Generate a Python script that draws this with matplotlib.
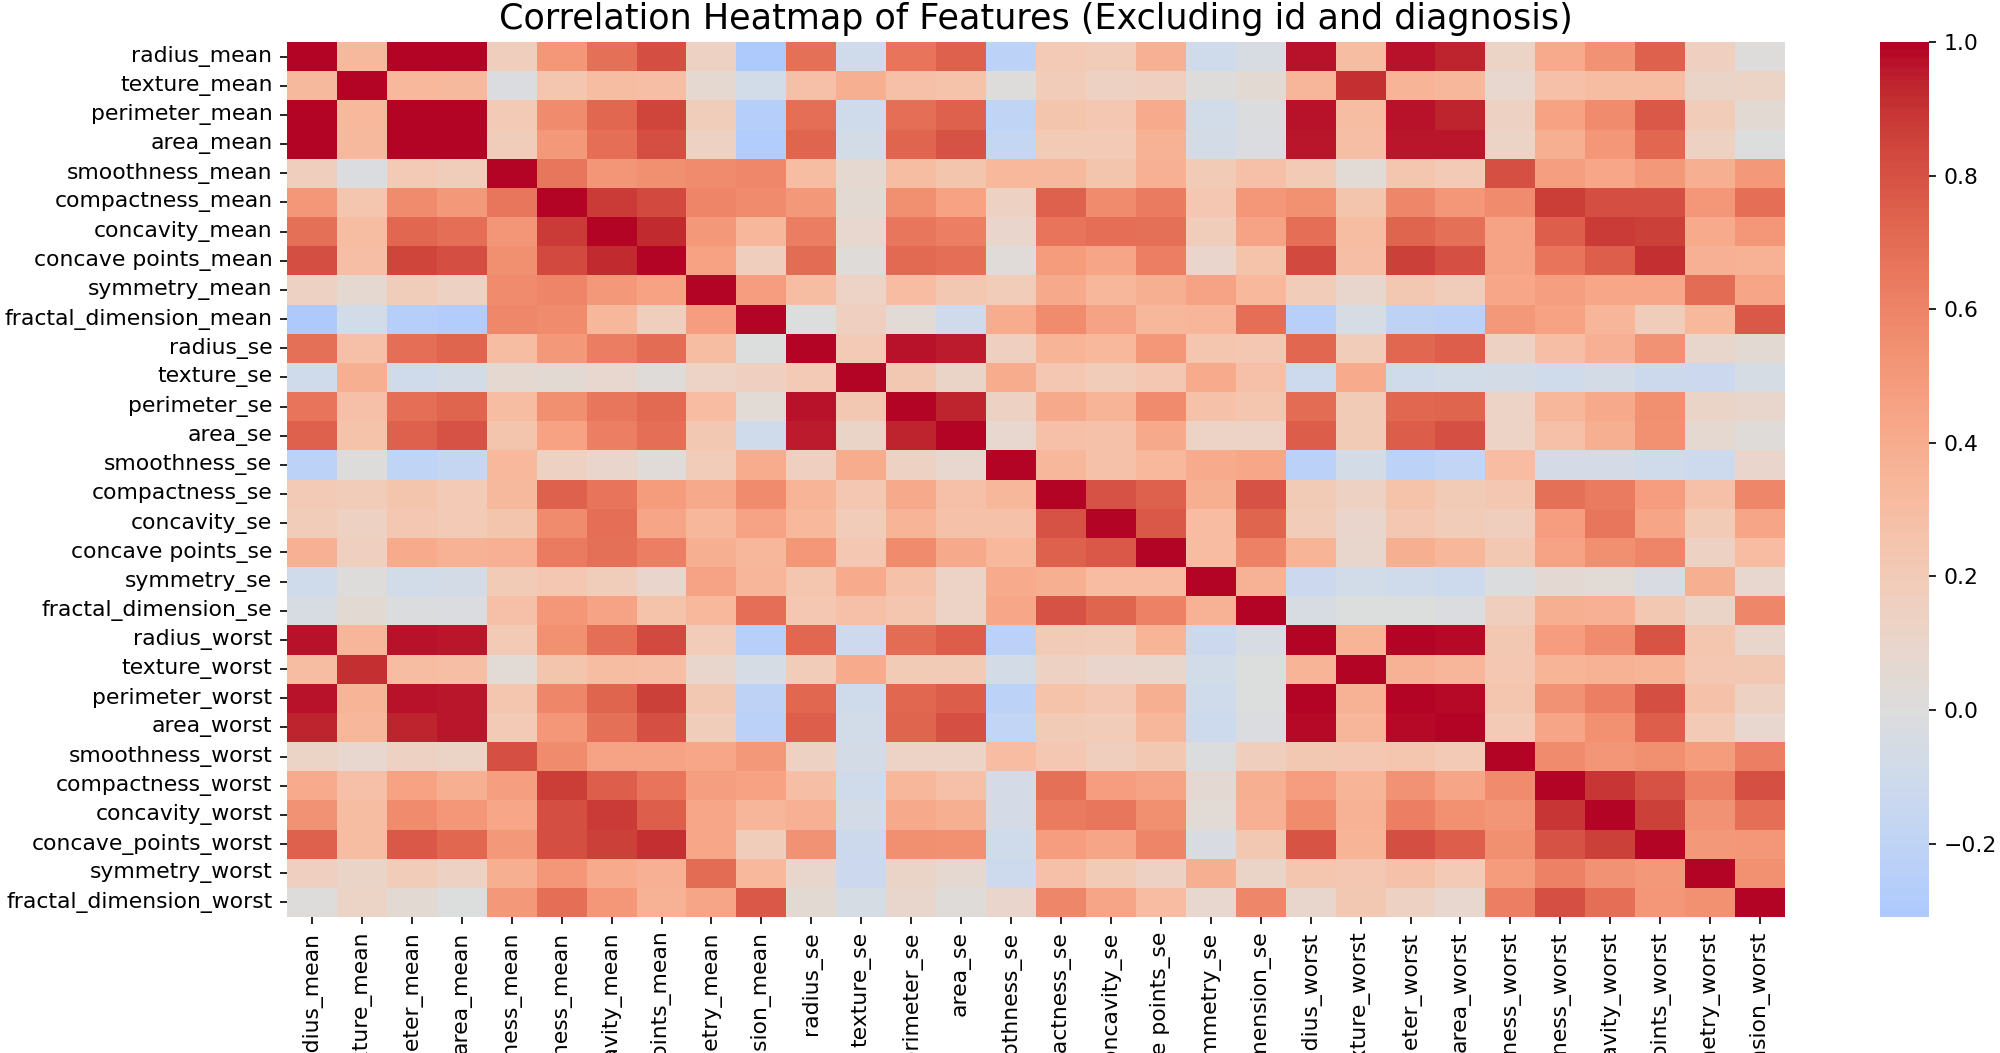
import matplotlib
matplotlib.use("Agg")
import matplotlib.pyplot as plt
import seaborn as sns
import pandas as pd

# feature names as they appear on the axes
features = ["radius_mean", "texture_mean", "perimeter_mean", "area_mean",
            "smoothness_mean", "compactness_mean", "concavity_mean",
            "concave points_mean", "symmetry_mean", "fractal_dimension_mean",
            "radius_se", "texture_se", "perimeter_se", "area_se",
            "smoothness_se", "compactness_se", "concavity_se",
            "concave points_se", "symmetry_se", "fractal_dimension_se",
            "radius_worst", "texture_worst", "perimeter_worst", "area_worst",
            "smoothness_worst", "compactness_worst", "concavity_worst",
            "concave_points_worst", "symmetry_worst", "fractal_dimension_worst"]

# correlation matrix, one row per feature
corr = [
    [1.00, 0.32, 1.00, 0.99, 0.17, 0.51, 0.68, 0.82, 0.15, -0.31, 0.68, -0.10, 0.67, 0.74, -0.22, 0.21, 0.19, 0.38, -0.10, -0.04, 0.97, 0.30, 0.97, 0.94, 0.12, 0.41, 0.53, 0.74, 0.16, 0.01],
    [0.32, 1.00, 0.33, 0.32, -0.02, 0.24, 0.30, 0.29, 0.07, -0.08, 0.28, 0.39, 0.28, 0.26, 0.01, 0.19, 0.14, 0.16, 0.01, 0.05, 0.35, 0.91, 0.36, 0.34, 0.08, 0.28, 0.30, 0.30, 0.11, 0.12],
    [1.00, 0.33, 1.00, 0.99, 0.21, 0.56, 0.72, 0.85, 0.18, -0.26, 0.69, -0.09, 0.69, 0.74, -0.20, 0.25, 0.23, 0.41, -0.08, -0.01, 0.97, 0.30, 0.97, 0.94, 0.15, 0.46, 0.56, 0.77, 0.19, 0.05],
    [0.99, 0.32, 0.99, 1.00, 0.18, 0.50, 0.69, 0.82, 0.15, -0.28, 0.73, -0.07, 0.73, 0.80, -0.17, 0.21, 0.21, 0.37, -0.07, -0.02, 0.96, 0.29, 0.96, 0.96, 0.12, 0.39, 0.51, 0.72, 0.14, 0.00],
    [0.17, -0.02, 0.21, 0.18, 1.00, 0.66, 0.52, 0.55, 0.56, 0.58, 0.30, 0.07, 0.30, 0.25, 0.33, 0.32, 0.25, 0.38, 0.20, 0.28, 0.21, 0.04, 0.24, 0.21, 0.81, 0.47, 0.43, 0.50, 0.39, 0.50],
    [0.51, 0.24, 0.56, 0.50, 0.66, 1.00, 0.88, 0.83, 0.60, 0.57, 0.50, 0.05, 0.55, 0.46, 0.14, 0.74, 0.57, 0.64, 0.23, 0.51, 0.54, 0.25, 0.59, 0.51, 0.57, 0.87, 0.82, 0.82, 0.51, 0.69],
    [0.68, 0.30, 0.72, 0.69, 0.52, 0.88, 1.00, 0.92, 0.50, 0.34, 0.63, 0.08, 0.66, 0.62, 0.10, 0.67, 0.69, 0.68, 0.18, 0.45, 0.69, 0.30, 0.73, 0.68, 0.45, 0.75, 0.88, 0.86, 0.41, 0.51],
    [0.82, 0.29, 0.85, 0.82, 0.55, 0.83, 0.92, 1.00, 0.46, 0.17, 0.70, 0.02, 0.71, 0.69, 0.03, 0.49, 0.44, 0.62, 0.10, 0.26, 0.83, 0.29, 0.86, 0.81, 0.45, 0.67, 0.75, 0.91, 0.38, 0.37],
    [0.15, 0.07, 0.18, 0.15, 0.56, 0.60, 0.50, 0.46, 1.00, 0.48, 0.30, 0.13, 0.31, 0.22, 0.19, 0.42, 0.34, 0.39, 0.45, 0.33, 0.19, 0.09, 0.22, 0.18, 0.43, 0.47, 0.43, 0.43, 0.70, 0.44],
    [-0.31, -0.08, -0.26, -0.28, 0.58, 0.57, 0.34, 0.17, 0.48, 1.00, 0.00, 0.16, 0.04, -0.09, 0.40, 0.56, 0.45, 0.34, 0.35, 0.69, -0.25, -0.05, -0.21, -0.23, 0.50, 0.46, 0.35, 0.18, 0.33, 0.77],
    [0.68, 0.28, 0.69, 0.73, 0.30, 0.50, 0.63, 0.70, 0.30, 0.00, 1.00, 0.21, 0.97, 0.95, 0.16, 0.36, 0.33, 0.51, 0.24, 0.23, 0.72, 0.19, 0.72, 0.75, 0.14, 0.29, 0.38, 0.53, 0.09, 0.05],
    [-0.10, 0.39, -0.09, -0.07, 0.07, 0.05, 0.08, 0.02, 0.13, 0.16, 0.21, 1.00, 0.22, 0.11, 0.40, 0.23, 0.19, 0.23, 0.41, 0.28, -0.11, 0.41, -0.10, -0.08, -0.07, -0.09, -0.07, -0.12, -0.13, -0.05],
    [0.67, 0.28, 0.69, 0.73, 0.30, 0.55, 0.66, 0.71, 0.31, 0.04, 0.97, 0.22, 1.00, 0.94, 0.15, 0.42, 0.36, 0.56, 0.27, 0.24, 0.70, 0.20, 0.72, 0.73, 0.13, 0.34, 0.42, 0.55, 0.11, 0.09],
    [0.74, 0.26, 0.74, 0.80, 0.25, 0.46, 0.62, 0.69, 0.22, -0.09, 0.95, 0.11, 0.94, 1.00, 0.08, 0.28, 0.27, 0.42, 0.13, 0.13, 0.76, 0.20, 0.76, 0.81, 0.13, 0.28, 0.39, 0.54, 0.07, 0.02],
    [-0.22, 0.01, -0.20, -0.17, 0.33, 0.14, 0.10, 0.03, 0.19, 0.40, 0.16, 0.40, 0.15, 0.08, 1.00, 0.34, 0.27, 0.33, 0.41, 0.43, -0.23, -0.07, -0.22, -0.18, 0.31, -0.06, -0.06, -0.10, -0.11, 0.10],
    [0.21, 0.19, 0.25, 0.21, 0.32, 0.74, 0.67, 0.49, 0.42, 0.56, 0.36, 0.23, 0.42, 0.28, 0.34, 1.00, 0.80, 0.74, 0.39, 0.80, 0.20, 0.14, 0.26, 0.20, 0.23, 0.68, 0.64, 0.48, 0.28, 0.59],
    [0.19, 0.14, 0.23, 0.21, 0.25, 0.57, 0.69, 0.44, 0.34, 0.45, 0.33, 0.19, 0.36, 0.27, 0.27, 0.80, 1.00, 0.77, 0.31, 0.73, 0.19, 0.10, 0.23, 0.19, 0.17, 0.48, 0.66, 0.44, 0.20, 0.44],
    [0.38, 0.16, 0.41, 0.37, 0.38, 0.64, 0.68, 0.62, 0.39, 0.34, 0.51, 0.23, 0.56, 0.42, 0.33, 0.74, 0.77, 1.00, 0.31, 0.61, 0.36, 0.09, 0.39, 0.34, 0.22, 0.45, 0.55, 0.60, 0.14, 0.31],
    [-0.10, 0.01, -0.08, -0.07, 0.20, 0.23, 0.18, 0.10, 0.45, 0.35, 0.24, 0.41, 0.27, 0.13, 0.41, 0.39, 0.31, 0.31, 1.00, 0.37, -0.13, -0.08, -0.10, -0.11, -0.01, 0.06, 0.04, -0.03, 0.39, 0.08],
    [-0.04, 0.05, -0.01, -0.02, 0.28, 0.51, 0.45, 0.26, 0.33, 0.69, 0.23, 0.28, 0.24, 0.13, 0.43, 0.80, 0.73, 0.61, 0.37, 1.00, -0.04, -0.00, -0.00, -0.02, 0.17, 0.39, 0.38, 0.22, 0.11, 0.59],
    [0.97, 0.35, 0.97, 0.96, 0.21, 0.54, 0.69, 0.83, 0.19, -0.25, 0.72, -0.11, 0.70, 0.76, -0.23, 0.20, 0.19, 0.36, -0.13, -0.04, 1.00, 0.36, 0.99, 0.98, 0.22, 0.48, 0.57, 0.79, 0.24, 0.09],
    [0.30, 0.91, 0.30, 0.29, 0.04, 0.25, 0.30, 0.29, 0.09, -0.05, 0.19, 0.41, 0.20, 0.20, -0.07, 0.14, 0.10, 0.09, -0.08, -0.00, 0.36, 1.00, 0.37, 0.35, 0.23, 0.36, 0.37, 0.36, 0.23, 0.22],
    [0.97, 0.36, 0.97, 0.96, 0.24, 0.59, 0.73, 0.86, 0.22, -0.21, 0.72, -0.10, 0.72, 0.76, -0.22, 0.26, 0.23, 0.39, -0.10, -0.00, 0.99, 0.37, 1.00, 0.98, 0.24, 0.53, 0.62, 0.82, 0.27, 0.14],
    [0.94, 0.34, 0.94, 0.96, 0.21, 0.51, 0.68, 0.81, 0.18, -0.23, 0.75, -0.08, 0.73, 0.81, -0.18, 0.20, 0.19, 0.34, -0.11, -0.02, 0.98, 0.35, 0.98, 1.00, 0.21, 0.44, 0.54, 0.75, 0.21, 0.08],
    [0.12, 0.08, 0.15, 0.12, 0.81, 0.57, 0.45, 0.45, 0.43, 0.50, 0.14, -0.07, 0.13, 0.13, 0.31, 0.23, 0.17, 0.22, -0.01, 0.17, 0.22, 0.23, 0.24, 0.21, 1.00, 0.57, 0.52, 0.55, 0.49, 0.62],
    [0.41, 0.28, 0.46, 0.39, 0.47, 0.87, 0.75, 0.67, 0.47, 0.46, 0.29, -0.09, 0.34, 0.28, -0.06, 0.68, 0.48, 0.45, 0.06, 0.39, 0.48, 0.36, 0.53, 0.44, 0.57, 1.00, 0.89, 0.80, 0.61, 0.81],
    [0.53, 0.30, 0.56, 0.51, 0.43, 0.82, 0.88, 0.75, 0.43, 0.35, 0.38, -0.07, 0.42, 0.39, -0.06, 0.64, 0.66, 0.55, 0.04, 0.38, 0.57, 0.37, 0.62, 0.54, 0.52, 0.89, 1.00, 0.86, 0.53, 0.69],
    [0.74, 0.30, 0.77, 0.72, 0.50, 0.82, 0.86, 0.91, 0.43, 0.18, 0.53, -0.12, 0.55, 0.54, -0.10, 0.48, 0.44, 0.60, -0.03, 0.22, 0.79, 0.36, 0.82, 0.75, 0.55, 0.80, 0.86, 1.00, 0.50, 0.51],
    [0.16, 0.11, 0.19, 0.14, 0.39, 0.51, 0.41, 0.38, 0.70, 0.33, 0.09, -0.13, 0.11, 0.07, -0.11, 0.28, 0.20, 0.14, 0.39, 0.11, 0.24, 0.23, 0.27, 0.21, 0.49, 0.61, 0.53, 0.50, 1.00, 0.54],
    [0.01, 0.12, 0.05, 0.00, 0.50, 0.69, 0.51, 0.37, 0.44, 0.77, 0.05, -0.05, 0.09, 0.02, 0.10, 0.59, 0.44, 0.31, 0.08, 0.59, 0.09, 0.22, 0.14, 0.08, 0.62, 0.81, 0.69, 0.51, 0.54, 1.00],
]

df = pd.DataFrame(corr, index=features, columns=features)

W, H = 2000, 1053
fig = plt.figure(figsize=(W / 150, H / 150), dpi=150)
ax = fig.add_axes([287 / W, 1 - 917 / H, 1498 / W, 875 / H])
cax = fig.add_axes([1880 / W, 1 - 917 / H, 49 / W, 875 / H])

sns.heatmap(df, cmap="coolwarm", center=0, ax=ax, cbar_ax=cax,
            xticklabels=features, yticklabels=features)
ax.set_xticklabels(features, rotation=90, fontsize=10.5)
ax.set_yticklabels(features, rotation=0, fontsize=10.5)
cax.tick_params(labelsize=10.5)
ax.set_title("Correlation Heatmap of Features (Excluding id and diagnosis)", fontsize=16.8)

fig.savefig("out.png", dpi=150)
